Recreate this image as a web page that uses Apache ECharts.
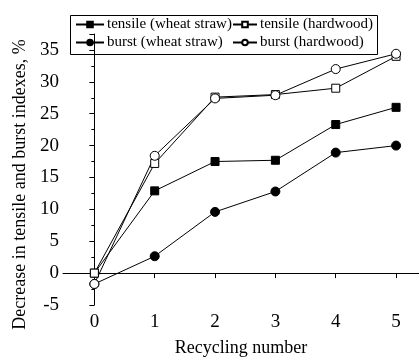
<!DOCTYPE html>
<html>
<head>
<meta charset="utf-8">
<script src="https://cdn.jsdelivr.net/npm/echarts@6/dist/echarts.min.js"></script>
<style>
	html, body { margin: 0; padding: 0; background: #fff; }
	#main { width: 419px; height: 360px; }
</style>
</head>
<body>
<div id="main"></div>
<script>
	// recycling number on the x axis
	var cycles = [0, 1, 2, 3, 4, 5];
	var xTicks = [0, 1, 2, 3, 4, 5];

	// decrease in indexes, %
	var tensileWheat = [0, 12.9, 17.5, 17.7, 23.3, 26.0];
	var tensileHard = [0, 17.2, 27.6, 28.0, 29.0, 34.0];
	var burstWheat = [-1.7, 2.65, 9.6, 12.8, 18.9, 20.0];
	var burstHard = [-1.7, 18.4, 27.4, 27.9, 32.0, 34.4];

	var names = ['tensile (wheat straw)', 'tensile (hardwood)', 'burst (wheat straw)', 'burst (hardwood)'];

	function pairs(ys) {
		return cycles.map(function (x, i) { return [x, ys[i]]; });
	}

	var font = 'Liberation Serif';

	function mkSeries(name, ys, symbol, size, filled) {
		return {
			name: name,
			type: 'line',
			data: pairs(ys),
			symbol: symbol,
			symbolSize: size,
			showAllSymbol: true,
			animation: false,
			lineStyle: { color: '#000', width: 1 },
			itemStyle: {
				color: filled ? '#000' : '#fff',
				borderColor: '#000',
				borderWidth: 1
			}
		};
	}

	var legendText = { fontFamily: font, fontSize: 15, lineHeight: 17, color: '#000', padding: [0, 0, 0, -2] };

	var option = {
		backgroundColor: '#fff',
		animation: false,
		grid: { left: 63, right: 0, top: 34, bottom: 55, outerBoundsMode: 'none', containLabel: false },
		legend: [
			{
				data: [names[0], names[2]],
				orient: 'vertical',
				left: 75, top: 16,
				itemWidth: 28, itemHeight: 7, itemGap: 1,
				padding: 0,
				textStyle: legendText
			},
			{
				data: [names[1], names[3]],
				orient: 'vertical',
				left: 232, top: 16,
				itemWidth: 24, itemHeight: 7, itemGap: 1,
				padding: 0,
				textStyle: legendText
			}
		],
		graphic: [
			{
				type: 'rect',
				left: 68, top: 13,
				shape: { width: 307, height: 39 },
				style: { fill: 'none', stroke: '#000', lineWidth: 1 },
				z: 10
			}
		],
		xAxis: {
			type: 'value',
			min: -0.52,
			max: 5.38,
			name: 'Recycling number',
			nameLocation: 'middle',
			nameGap: 34,
			nameTextStyle: { fontFamily: font, fontSize: 18, color: '#000' },
			axisLine: { lineStyle: { color: '#000', width: 1 } },
			axisTick: { show: true, inside: false, length: 5, customValues: xTicks, lineStyle: { color: '#000' } },
			axisLabel: { customValues: xTicks, fontFamily: font, fontSize: 19, color: '#000', margin: 8 },
			splitLine: { show: false }
		},
		yAxis: {
			type: 'value',
			min: -5,
			max: 37.5,
			interval: 5,
			name: 'Decrease in tensile and burst indexes, %',
			nameLocation: 'middle',
			nameGap: 34,
			nameTextStyle: { fontFamily: font, fontSize: 18, color: '#000', padding: [0, 30, 0, 0] },
			axisLine: { show: true, lineStyle: { color: '#000', width: 1 } },
			axisTick: { show: true, inside: false, length: 5, lineStyle: { color: '#000' } },
			minorTick: { show: true, splitNumber: 2, length: 3, lineStyle: { color: '#000' } },
			axisLabel: {
				fontFamily: font, fontSize: 19, color: '#000', margin: 4,
				showMaxLabel: false
			},
			splitLine: { show: false }
		},
		series: [
			mkSeries(names[0], tensileWheat, 'rect', 8, true),
			mkSeries(names[2], burstWheat, 'circle', 9, true),
			mkSeries(names[1], tensileHard, 'rect', 8, false),
			mkSeries(names[3], burstHard, 'circle', 9, false)
		]
	};

	var myChart = echarts.init(document.getElementById('main'), null, { renderer: 'canvas' });
	myChart.setOption(option);
</script>
</body>
</html>
